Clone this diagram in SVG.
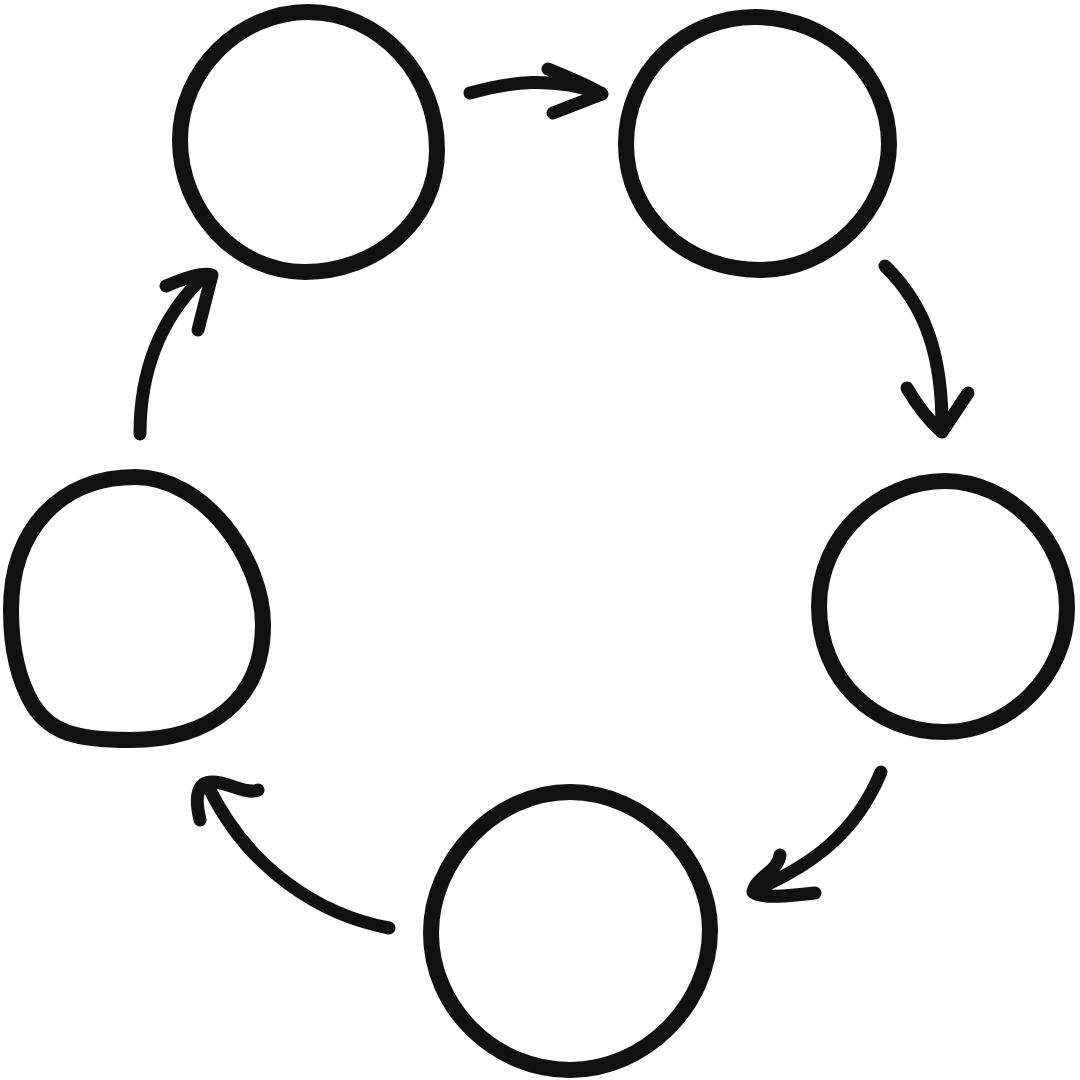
<svg xmlns="http://www.w3.org/2000/svg" width="1080" height="1080" viewBox="0 0 1080 1080">
<style>
.node{fill:none;stroke:#111;stroke-width:16;stroke-linecap:round;stroke-linejoin:round}
.arr{fill:none;stroke:#111;stroke-width:13;stroke-linecap:round;stroke-linejoin:round}
</style>
<rect width="1080" height="1080" fill="#fff"/>
<g id="node1"><path class="node" d="M308,12 C380,12 437,75 437,150 C437,222 375,272 305,272 C235,272 180,210 180,140 C180,70 240,12 308,12 Z"/></g>
<g id="node2"><path class="node" d="M755,17 C830,17 889,75 889,144 C889,210 830,270 760,270 C685,270 626,215 626,144 C626,72 685,17 755,17 Z"/></g>
<g id="node3"><path class="node" d="M945,481 C1010,481 1067,540 1067,608 C1067,675 1010,732 945,732 C875,732 819,680 819,606 C819,535 880,481 945,481 Z"/></g>
<g id="node4"><path class="node" d="M570,792 C645,792 710,860 710,930 C710,1005 645,1070 570,1070 C495,1070 431,1008 431,933 C431,860 495,792 570,792 Z"/></g>
<g id="node5"><path class="node" d="M135,477 C205,477 263,560 263,625 C263,700 210,740 130,740 C75,740 50,732 33,705 C17,678 11,645 11,610 C11,530 60,477 135,477 Z"/></g>
<g id="connectors">
<path class="arr" d="M470,93 C510,82 550,76 601,93 M548,69 C570,78 588,85 602,94 L553,113"/>
<path class="arr" d="M885,266 C925,305 943,355 942,432 M907,388 C918,407 928,420 942,432 L968,393"/>
<path class="arr" d="M881,772 C855,835 810,866 755,890 M780,855 C778,872 756,876 753,892 C762,899 790,896 815,893"/>
<path class="arr" d="M389,928 C320,915 250,870 210,790 M200,820 C194,795 198,782 212,782 C230,782 245,795 258,790"/>
<path class="arr" d="M140,434 C140,370 160,320 200,280 M166,286 C180,280 200,272 212,275 L198,330"/>
</g>
</svg>
